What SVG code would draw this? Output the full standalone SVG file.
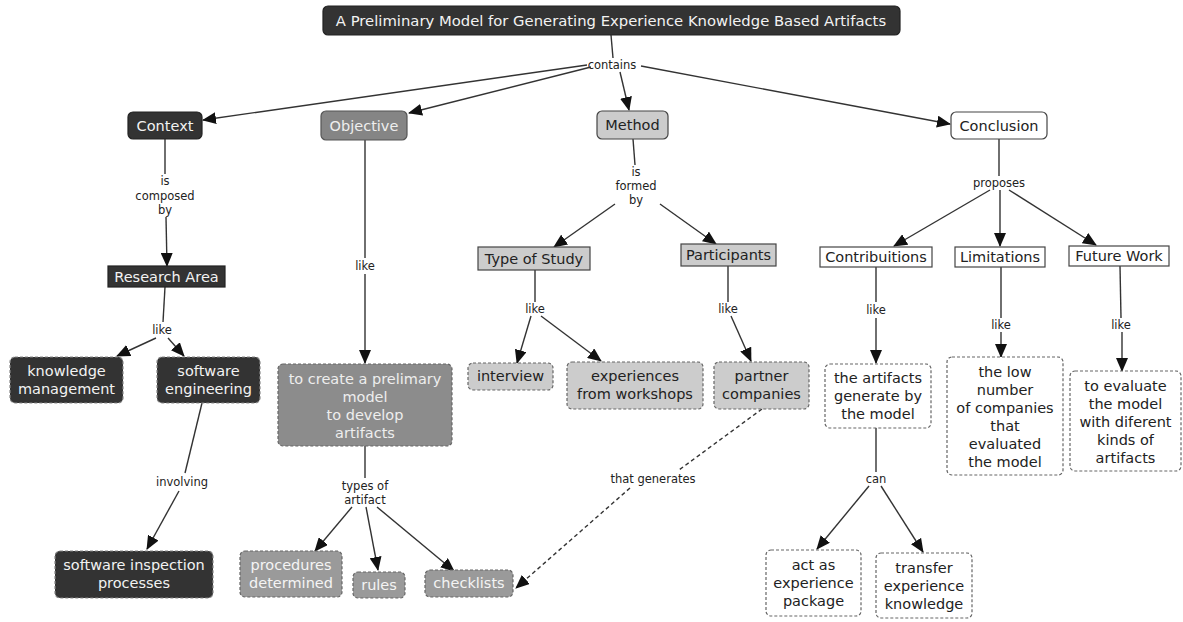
<svg xmlns="http://www.w3.org/2000/svg" width="1183" height="622" viewBox="0 0 1183 622">
  <defs>
    <marker id="arrow" markerUnits="userSpaceOnUse" markerWidth="14" markerHeight="12" refX="13" refY="6" orient="auto">
      <path d="M0,0 L14,6 L0,12 Z" fill="#111"/>
    </marker>
    <style>
      text { font-family: "DejaVu Sans", Verdana, sans-serif; text-anchor: middle; dominant-baseline: central; }
      .node { font-size: 14.5px; }
      .title { font-size: 14.8px; }
      .lbl { font-size: 11.5px; fill: #222; }
      .edge { stroke: #333; stroke-width: 1.4; fill: none; }
      .arr { marker-end: url(#arrow); }
      .dashedge { stroke-dasharray: 4 3; }
      .dark { fill: #333; stroke: #222; stroke-width: 1.2; }
      .dark-t { fill: #f2f2f2; }
      .mid { fill: #858585; stroke: #555; stroke-width: 1.2; }
      .mid-t { fill: #eeeeee; }
      .grey { fill: #9a9a9a; stroke: #555; stroke-width: 1.2; }
      .grey-t { fill: #f4f4f4; }
      .light { fill: #cccccc; stroke: #444; stroke-width: 1.2; }
      .light-t { fill: #222; }
      .white { fill: #ffffff; stroke: #444; stroke-width: 1.2; }
      .white-t { fill: #222; }
      .dash { stroke-dasharray: 3 2; stroke: #666; }
    </style>
  </defs>

  <rect width="1183" height="622" fill="#ffffff"/>

  <!-- connectors and linking phrases -->
  <g id="connectors">
    <line class="edge" x1="611" y1="35" x2="613" y2="58"/>
    <text class="lbl" x="612" y="65">contains</text>
    <line class="edge arr" x1="587" y1="65" x2="203" y2="120"/>
    <line class="edge arr" x1="591" y1="67" x2="409" y2="113"/>
    <line class="edge arr" x1="620" y1="72" x2="629" y2="110"/>
    <line class="edge arr" x1="641" y1="66" x2="950" y2="124"/>

    <line class="edge" x1="165" y1="139" x2="165" y2="174"/>
    <text class="lbl" x="165" y="181">is</text>
    <text class="lbl" x="165" y="196">composed</text>
    <text class="lbl" x="165" y="210">by</text>
    <line class="edge arr" x1="166" y1="217" x2="167" y2="266"/>

    <line class="edge" x1="165" y1="287" x2="163" y2="322"/>
    <text class="lbl" x="162" y="330">like</text>
    <line class="edge arr" x1="156" y1="338" x2="117" y2="356"/>
    <line class="edge arr" x1="168" y1="338" x2="184" y2="356"/>

    <line class="edge" x1="202" y1="403" x2="185" y2="473"/>
    <text class="lbl" x="182" y="482">involving</text>
    <line class="edge arr" x1="179" y1="491" x2="147" y2="549"/>

    <line class="edge" x1="365" y1="140" x2="365" y2="258"/>
    <text class="lbl" x="365" y="266">like</text>
    <line class="edge arr" x1="365" y1="274" x2="365" y2="363"/>

    <line class="edge" x1="365" y1="446" x2="365" y2="478"/>
    <text class="lbl" x="365" y="486">types of</text>
    <text class="lbl" x="365" y="500">artifact</text>
    <line class="edge arr" x1="352" y1="507" x2="315" y2="551"/>
    <line class="edge arr" x1="366" y1="507" x2="378" y2="570"/>
    <line class="edge arr" x1="377" y1="507" x2="454" y2="571"/>

    <line class="edge" x1="633" y1="139" x2="635" y2="165"/>
    <text class="lbl" x="636" y="172">is</text>
    <text class="lbl" x="636" y="186">formed</text>
    <text class="lbl" x="636" y="200">by</text>
    <line class="edge arr" x1="615" y1="204" x2="554" y2="247"/>
    <line class="edge arr" x1="660" y1="204" x2="716" y2="244"/>

    <line class="edge" x1="535" y1="270" x2="535" y2="302"/>
    <text class="lbl" x="535" y="309">like</text>
    <line class="edge arr" x1="531" y1="316" x2="517" y2="363"/>
    <line class="edge arr" x1="541" y1="316" x2="601" y2="361"/>

    <line class="edge" x1="728" y1="266" x2="728" y2="302"/>
    <text class="lbl" x="728" y="309">like</text>
    <line class="edge arr" x1="731" y1="316" x2="751" y2="361"/>

    <line class="edge dashedge" x1="762" y1="409" x2="679" y2="470"/>
    <text class="lbl" x="653" y="479">that generates</text>
    <line class="edge dashedge arr" x1="630" y1="488" x2="516" y2="588"/>

    <line class="edge" x1="999" y1="139" x2="999" y2="176"/>
    <text class="lbl" x="999" y="183">proposes</text>
    <line class="edge arr" x1="990" y1="190" x2="894" y2="246"/>
    <line class="edge arr" x1="1000" y1="190" x2="1000" y2="246"/>
    <line class="edge arr" x1="1009" y1="190" x2="1096" y2="245"/>

    <line class="edge" x1="876" y1="267" x2="876" y2="302"/>
    <text class="lbl" x="876" y="310">like</text>
    <line class="edge arr" x1="876" y1="318" x2="876" y2="363"/>

    <line class="edge" x1="876" y1="428" x2="876" y2="472"/>
    <text class="lbl" x="876" y="479">can</text>
    <line class="edge arr" x1="869" y1="486" x2="817" y2="549"/>
    <line class="edge arr" x1="881" y1="486" x2="923" y2="552"/>

    <line class="edge" x1="1001" y1="267" x2="1001" y2="318"/>
    <text class="lbl" x="1001" y="325">like</text>
    <line class="edge arr" x1="1001" y1="332" x2="1001" y2="357"/>

    <line class="edge" x1="1120" y1="266" x2="1121" y2="318"/>
    <text class="lbl" x="1121" y="325">like</text>
    <line class="edge arr" x1="1122" y1="332" x2="1122" y2="371"/>
  </g>

  <!-- concept nodes -->
  <g id="title">
    <rect class="dark" x="323" y="6" width="577" height="29" rx="5"/>
    <text class="title dark-t" x="611" y="20.5">A Preliminary Model for Generating Experience Knowledge Based Artifacts</text>
  </g>

  <g id="context">
    <rect class="dark" x="128" y="112" width="74" height="27" rx="5"/>
    <text class="node dark-t" x="165" y="125.5">Context</text>
  </g>
  <g id="objective">
    <rect class="mid" x="321" y="111" width="86" height="29" rx="5"/>
    <text class="node mid-t" x="364" y="125.5">Objective</text>
  </g>
  <g id="method">
    <rect class="light" x="597" y="111" width="71" height="28" rx="5"/>
    <text class="node light-t" x="632.5" y="125">Method</text>
  </g>
  <g id="conclusion">
    <rect class="white" x="951" y="112" width="96" height="27" rx="5"/>
    <text class="node white-t" x="999" y="125.5">Conclusion</text>
  </g>

  <g id="research-area">
    <rect class="dark" x="108" y="266" width="117" height="21"/>
    <text class="node dark-t" x="166.5" y="276.5">Research Area</text>
  </g>
  <g id="knowledge-management">
    <rect class="dark dash" x="10" y="357" width="113" height="46" rx="5" style="stroke:#888"/>
    <text class="node dark-t" x="66.5" y="371">knowledge</text>
    <text class="node dark-t" x="66.5" y="389">management</text>
  </g>
  <g id="software-engineering">
    <rect class="dark dash" x="157" y="357" width="103" height="46" rx="5" style="stroke:#888"/>
    <text class="node dark-t" x="208.5" y="371">software</text>
    <text class="node dark-t" x="208.5" y="389">engineering</text>
  </g>
  <g id="software-inspection">
    <rect class="dark dash" x="55" y="551" width="158" height="47" rx="5" style="stroke:#888"/>
    <text class="node dark-t" x="134" y="565">software inspection</text>
    <text class="node dark-t" x="134" y="583">processes</text>
  </g>

  <g id="create-model">
    <rect class="mid dash" x="278" y="364" width="174" height="82" rx="5" style="fill:#8c8c8c"/>
    <text class="node mid-t" x="365" y="379">to create a prelimary</text>
    <text class="node mid-t" x="365" y="397">model</text>
    <text class="node mid-t" x="365" y="415">to develop</text>
    <text class="node mid-t" x="365" y="433">artifacts</text>
  </g>
  <g id="procedures">
    <rect class="grey dash" x="240" y="551" width="102" height="46" rx="5"/>
    <text class="node grey-t" x="291" y="565">procedures</text>
    <text class="node grey-t" x="291" y="583">determined</text>
  </g>
  <g id="rules">
    <rect class="grey dash" x="353" y="572" width="52" height="26" rx="5"/>
    <text class="node grey-t" x="379" y="585">rules</text>
  </g>
  <g id="checklists">
    <rect class="grey dash" x="425" y="570" width="88" height="27" rx="5"/>
    <text class="node grey-t" x="469" y="583">checklists</text>
  </g>

  <g id="type-of-study">
    <rect class="light" x="478" y="247" width="112" height="23"/>
    <text class="node light-t" x="534" y="258.5">Type of Study</text>
  </g>
  <g id="participants">
    <rect class="light" x="681" y="244" width="95" height="22"/>
    <text class="node light-t" x="728.5" y="255">Participants</text>
  </g>
  <g id="interview">
    <rect class="light dash" x="468" y="363" width="85" height="27" rx="5"/>
    <text class="node light-t" x="510.5" y="376">interview</text>
  </g>
  <g id="experiences">
    <rect class="light dash" x="567" y="362" width="136" height="47" rx="5"/>
    <text class="node light-t" x="635" y="376">experiences</text>
    <text class="node light-t" x="635" y="394">from workshops</text>
  </g>
  <g id="partner-companies">
    <rect class="light dash" x="714" y="362" width="95" height="47" rx="5"/>
    <text class="node light-t" x="761.5" y="376">partner</text>
    <text class="node light-t" x="761.5" y="394">companies</text>
  </g>

  <g id="contributions">
    <rect class="white" x="820" y="247" width="112" height="20"/>
    <text class="node white-t" x="876" y="257">Contribuitions</text>
  </g>
  <g id="limitations">
    <rect class="white" x="955" y="247" width="90" height="20"/>
    <text class="node white-t" x="1000" y="257">Limitations</text>
  </g>
  <g id="future-work">
    <rect class="white" x="1069" y="246" width="100" height="20"/>
    <text class="node white-t" x="1119" y="256">Future Work</text>
  </g>
  <g id="artifacts-generated">
    <rect class="white dash" x="825" y="364" width="106" height="64" rx="5"/>
    <text class="node white-t" x="878" y="378">the artifacts</text>
    <text class="node white-t" x="878" y="396">generate by</text>
    <text class="node white-t" x="878" y="414">the model</text>
  </g>
  <g id="experience-package">
    <rect class="white dash" x="766" y="550" width="95" height="66" rx="5"/>
    <text class="node white-t" x="813.5" y="565">act as</text>
    <text class="node white-t" x="813.5" y="583">experience</text>
    <text class="node white-t" x="813.5" y="601">package</text>
  </g>
  <g id="transfer-knowledge">
    <rect class="white dash" x="876" y="553" width="96" height="65" rx="5"/>
    <text class="node white-t" x="924" y="568">transfer</text>
    <text class="node white-t" x="924" y="586">experience</text>
    <text class="node white-t" x="924" y="604">knowledge</text>
  </g>
  <g id="low-number">
    <rect class="white dash" x="947" y="357" width="116" height="118" rx="5"/>
    <text class="node white-t" x="1005" y="372">the low</text>
    <text class="node white-t" x="1005" y="390">number</text>
    <text class="node white-t" x="1005" y="408">of companies</text>
    <text class="node white-t" x="1005" y="426">that</text>
    <text class="node white-t" x="1005" y="444">evaluated</text>
    <text class="node white-t" x="1005" y="462">the model</text>
  </g>
  <g id="evaluate-model">
    <rect class="white dash" x="1070" y="371" width="111" height="100" rx="5"/>
    <text class="node white-t" x="1125.5" y="386">to evaluate</text>
    <text class="node white-t" x="1125.5" y="404">the model</text>
    <text class="node white-t" x="1125.5" y="422">with diferent</text>
    <text class="node white-t" x="1125.5" y="440">kinds of</text>
    <text class="node white-t" x="1125.5" y="458">artifacts</text>
  </g>
</svg>
